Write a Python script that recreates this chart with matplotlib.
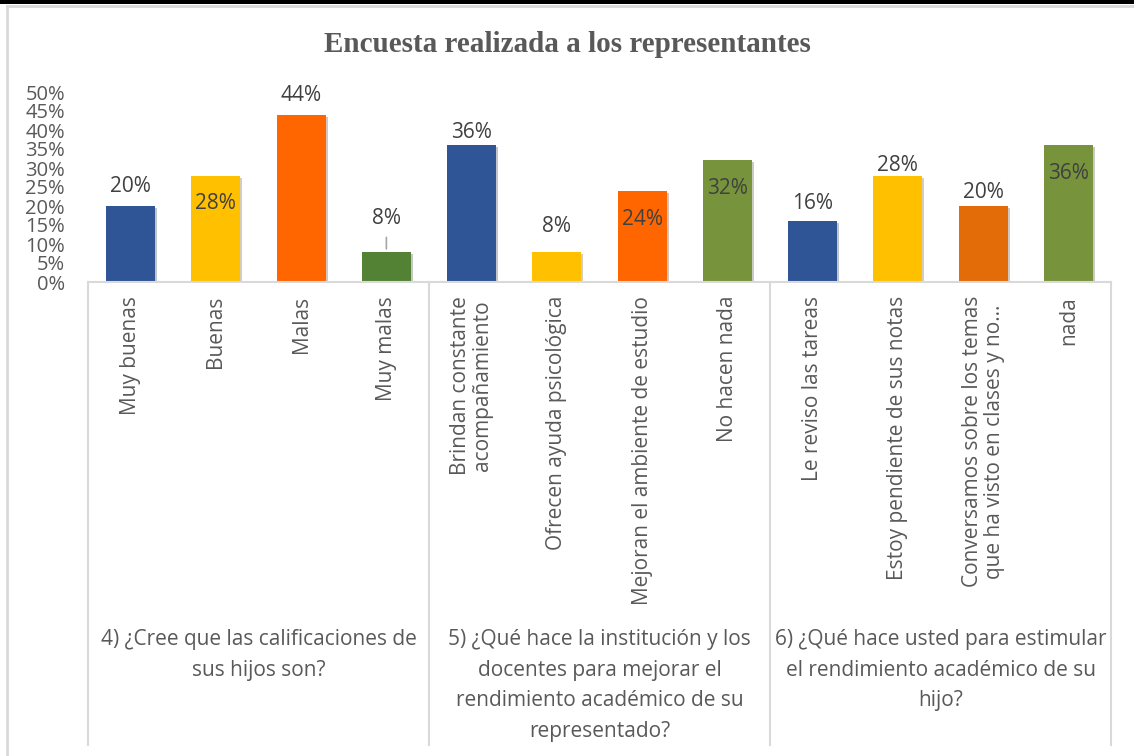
import numpy as np
import matplotlib
matplotlib.use("Agg")
import matplotlib.pyplot as plt
import matplotlib.patheffects as pe

# datos de la encuesta
categorias = ["Muy buenas", "Buenas", "Malas", "Muy malas",
              "Brindan constante\nacompañamiento", "Ofrecen ayuda psicológica",
              "Mejoran el ambiente de estudio", "No hacen nada",
              "Le reviso las tareas", "Estoy pendiente de sus notas",
              "Conversamos sobre los temas\nque ha visto en clases y no…", "nada"]
valores = [0.20, 0.28, 0.44, 0.08,
           0.36, 0.08, 0.24, 0.32,
           0.16, 0.28, 0.20, 0.36]
preguntas = ["4) ¿Cree que las calificaciones de\nsus hijos son?",
             "5) ¿Qué hace la institución y los\ndocentes para mejorar el\nrendimiento académico de su\nrepresentado?",
             "6) ¿Qué hace usted para estimular\nel rendimiento académico de su\nhijo?"]
y_ticks = [0, 0.05, 0.10, 0.15, 0.20, 0.25, 0.30, 0.35, 0.40, 0.45, 0.50]

colores = ["#2F5597", "#FFC000", "#FF6600", "#548235",
           "#2F5597", "#FFC000", "#FF6600", "#77933C",
           "#2F5597", "#FFC000", "#E36C09", "#77933C"]
# desplazamiento de la etiqueta en pixeles (negativo = dentro de la barra)
desp = [19, -28, 19, 33, 13, 25, -29, -28, 18, 10, 13, -28]

gris = "#595959"
linea = "#D9D9D9"
fuente = "Open Sans"

fig = plt.figure(figsize=(11.34, 7.56), dpi=100)
ax = fig.add_axes([88/1134, 1-282/756, (1111-88)/1134, (282-92)/756])

x = np.arange(len(valores))
barras = ax.bar(x, valores, width=0.575, color=colores, zorder=2)
for b in barras:
    b.set_path_effects([pe.SimplePatchShadow(offset=(1.5, -1.5), alpha=0.25), pe.Normal()])

for i, v in enumerate(valores):
    ax.annotate(f"{int(round(v*100))}%", (x[i], v), xytext=(0, desp[i]),
                textcoords="offset pixels", ha="center", va="center",
                fontsize=15, color="#404040", family=fuente)
    if desp[i] > 30:
        ax.annotate("", (x[i], v), xytext=(0, 17), textcoords="offset pixels",
                    arrowprops=dict(arrowstyle="-", color="#A6A6A6", lw=1.2))

ax.set_xlim(-0.5, len(valores)-0.5)
ax.set_ylim(0, 0.5)
ax.set_yticks(y_ticks)
ax.set_yticklabels([f"{int(round(t*100))}%" for t in y_ticks], fontsize=14.5,
                   color=gris, family=fuente)
ax.tick_params(axis="y", length=0, pad=16.5)
ax.set_xticks([])
for s in ax.spines.values():
    s.set_visible(False)

# caja del eje de categorias
abajo = -(745-282)/190
ax.plot([0, 1], [0, 0], transform=ax.transAxes, color=linea, lw=1.5, clip_on=False)
for xl in [0, 4, 8, 12]:
    xa = xl/12
    ax.plot([xa, xa], [0, abajo], transform=ax.transAxes, color=linea, lw=1.5, clip_on=False)

for i, c in enumerate(categorias):
    ax.text(x[i], -14/190*0.5, c, rotation=90, ha="center", va="top",
            fontsize=15, color=gris, family=fuente, transform=ax.transData,
            multialignment="center", linespacing=1.05)

for g, p in enumerate(preguntas):
    ax.text((g*4+2)/12, -(629-282)/190, p, ha="center", va="top",
            transform=ax.transAxes, fontsize=15, color=gris, family=fuente,
            linespacing=1.6)

fig.text(0.5, 1-45/756, "Encuesta realizada a los representantes", ha="center",
         va="center", fontsize=21, fontweight="bold", color=gris,
         family="Liberation Serif")

# marco
fig.add_artist(plt.Rectangle((0, 1-4/756), 1, 4/756, transform=fig.transFigure,
                             color="black", lw=0))
fig.add_artist(plt.Line2D([6.5/1134, 1], [1-6/756, 1-6/756], color=linea, lw=2))
fig.add_artist(plt.Line2D([6.5/1134, 6.5/1134], [0, 1-6/756], color=linea, lw=2))

fig.savefig("out.png", dpi=100)
